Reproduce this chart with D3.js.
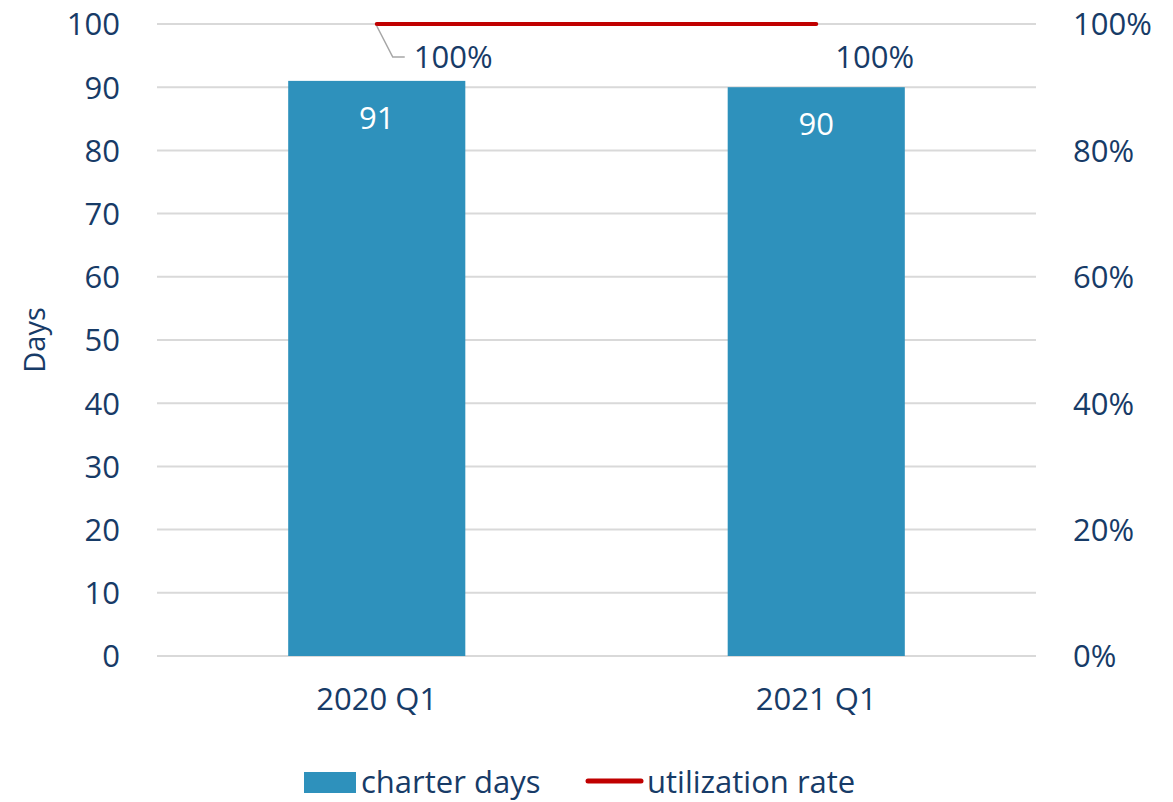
<!DOCTYPE html>
<html><head><meta charset="utf-8">
<script src="https://cdn.jsdelivr.net/npm/d3@7"></script>
<style>body{margin:0;background:#fff}svg{display:block}text{font-family:"Open Sans",sans-serif;fill:#173b67}</style>
</head><body><svg id="c" width="1173" height="802"></svg>
<script>
const categories = ["2020 Q1", "2021 Q1"];
const charterDays = [91, 90];
const utilization = [1.0, 1.0];
const utilLabels = ["100%", "100%"];
const leftTicks = [0,10,20,30,40,50,60,70,80,90,100];
const rightTicks = [0,0.2,0.4,0.6,0.8,1.0];

const svg = d3.select("#c");
const L = 157, R = 1036, T = 24, B = 656;
const x = d3.scaleBand().domain(categories).range([L, R]).paddingInner(0.597).paddingOuter(0.2985);
const y = d3.scaleLinear().domain([0,100]).range([B, T]);
const y2 = d3.scaleLinear().domain([0,1]).range([B, T]);
const fs = 31, col = "#173b67";

// gridlines
svg.append("g").selectAll("line").data(leftTicks).join("line")
  .attr("x1", L).attr("x2", R).attr("y1", d=>y(d)).attr("y2", d=>y(d))
  .attr("stroke", "#d9d9d9").attr("stroke-width", 2);

// left axis
const la = svg.append("g").attr("transform", `translate(${L},0)`)
  .call(d3.axisLeft(y).tickValues(leftTicks).tickSize(0).tickPadding(37));
la.select(".domain").remove();
la.selectAll("text").attr("font-size", fs).attr("font-family", "Open Sans").attr("fill", col).attr("dy", "0.35em");

// right axis
const ra = svg.append("g").attr("transform", `translate(${R},0)`)
  .call(d3.axisRight(y2).tickValues(rightTicks).tickFormat(d3.format(".0%")).tickSize(0).tickPadding(37));
ra.select(".domain").remove();
ra.selectAll("text").attr("font-size", fs).attr("font-family", "Open Sans").attr("fill", col).attr("dy", "0.35em");

// bottom axis
const ba = svg.append("g").attr("transform", `translate(0,${B})`)
  .call(d3.axisBottom(x).tickSize(0).tickPadding(32));
ba.select(".domain").remove();
ba.selectAll("text").attr("font-size", fs).attr("font-family", "Open Sans").attr("fill", col).attr("dy", "0.71em");

// y title
svg.append("text").attr("transform", `translate(45,340) rotate(-90)`)
  .attr("text-anchor", "middle").attr("font-size", 29).text("Days");

// bars
svg.append("g").selectAll("rect").data(charterDays).join("rect")
  .attr("x", (d,i)=>x(categories[i])).attr("width", x.bandwidth())
  .attr("y", d=>y(d)).attr("height", d=>B - y(d)).attr("fill", "#2e91bc");

// bar labels
svg.append("g").selectAll("text").data(charterDays).join("text")
  .attr("x", (d,i)=>x(categories[i]) + x.bandwidth()/2).attr("y", d=>y(d)+37)
  .attr("dy", "0.35em").attr("text-anchor", "middle").attr("font-size", fs)
  .style("fill", "#fff").text(d=>d);

// line
const cx = (d,i)=>x(categories[i]) + x.bandwidth()/2;
svg.append("path").datum(utilization)
  .attr("d", d3.line().x(cx).y(d=>y2(d)))
  .attr("fill", "none").attr("stroke", "#c00000").attr("stroke-width", 4).attr("stroke-linecap", "round");

// leader line for first label
const p0x = cx(0,0), p0y = y2(utilization[0]);
svg.append("path").attr("d", `M${p0x},${p0y+2}L${p0x+16},${p0y+33}L${p0x+28},${p0y+33}`)
  .attr("fill", "none").attr("stroke", "#a6a6a6").attr("stroke-width", 1.5);

// line labels
const lblOff = [[37, 33], [19, 33]];
svg.append("g").selectAll("text").data(utilLabels).join("text")
  .attr("x", (d,i)=>cx(0,i) + lblOff[i][0]).attr("y", (d,i)=>y2(utilization[i]) + lblOff[i][1])
  .attr("dy", "0.35em").attr("font-size", fs).text(d=>d);

// legend
const lg = svg.append("g");
lg.append("rect").attr("x", 304).attr("y", 772).attr("width", 52).attr("height", 21).attr("fill", "#2e91bc");
lg.append("text").attr("x", 361).attr("y", 782).attr("dy", "0.35em").attr("font-size", fs).text("charter days");
lg.append("line").attr("x1", 588).attr("x2", 641).attr("y1", 781).attr("y2", 781)
  .attr("stroke", "#c00000").attr("stroke-width", 5).attr("stroke-linecap", "round");
lg.append("text").attr("x", 647).attr("y", 782).attr("dy", "0.35em").attr("font-size", fs).text("utilization rate");
</script></body></html>
